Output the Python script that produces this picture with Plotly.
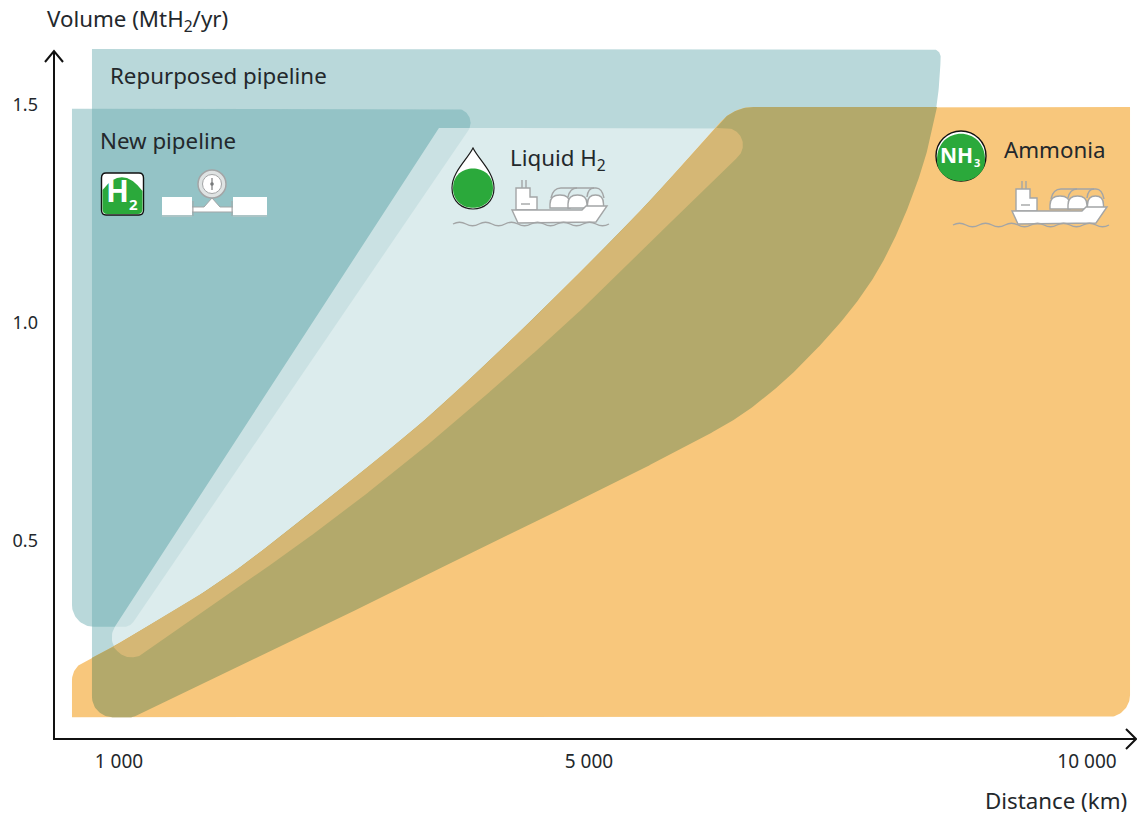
import numpy as np
import plotly.graph_objects as go

# Tick labels and axis titles
x_tick_km = [1000, 5000, 10000]
x_tick_text = ["1 000", "5 000", "10 000"]
y_tick_mt = [0.5, 1.0, 1.5]
y_tick_text = ["0.5", "1.0", "1.5"]

# Region outlines: distance (km) against annual volume (MtH2/yr)
new_pipeline_km = [600, 4098, 1094, 600]
new_pipeline_mt = [1.491, 1.491, 0.303, 0.303]

repurposed_km = [770, 8534, 8524, 8494, 8404, 8273, 8112, 7922, 7691, 7349, 6948,
                 6516, 6044, 5612, 4923, 3562, 3196, 1119, 770]
repurposed_mt = [1.628, 1.628, 1.569, 1.495, 1.397, 1.305, 1.213, 1.126, 1.046, 0.954, 0.862,
                 0.784, 0.725, 0.674, 0.594, 0.415, 0.365, 0.096, 0.096]

ammonia_km = [600, 10432, 10432, 6452, 5633, 4694, 4072, 3562, 2770, 2030, 1630, 940, 600]
ammonia_mt = [0.096, 0.096, 1.495, 1.495, 1.282, 1.053, 0.892, 0.766, 0.594, 0.438, 0.365, 0.255, 0.209]

liquid_km = [3723, 6797, 5914, 4983, 4353, 3562, 2711, 489]
liquid_mt = [1.447, 1.447, 1.252, 1.041, 0.888, 0.704, 0.525, 0.106]

# Corner rounding of each outline, in screen pixels; SMOOTH turns a vertex into a continuous curve
SMOOTH = 5000
new_pipeline_r = [0, 14, 11, 22]
repurposed_r = [0, 8] + [SMOOTH] * 15 + [10, 22]
ammonia_r = [0, 22, 0, 44] + [SMOOTH] * 8 + [20]
liquid_r = [0, 17, SMOOTH, SMOOTH, SMOOTH, SMOOTH, SMOOTH, 20]

# Flat colours of the regions and their overlaps
REPURPOSED = "#b9d8da"
NEW = "rgba(106,172,176,0.47)"
LIQUID = "rgba(255,255,255,0.5)"
AMMONIA = "#f8c77c"
AMMONIA_REPURPOSED = "#b3a96b"
AMMONIA_LIQUID = "#d5b775"
GREEN = "#2ba93b"
INK = "#23282c"
AXIS = "#111111"
ICON_GREY = "#a3a5a6"

W, H = 1137, 815
FONT = "Noto Sans"

# The distance axis is schematic: its ticks are not evenly spaced per km
AXIS_KM = [447, 1000, 5000, 10000, 10502]
AXIS_POS = [0, 65, 535, 1033, 1083]
Y_RANGE = [0.0459, 1.628]
Y_PX = 436.0


def to_pos(km):
    return np.interp(km, AXIS_KM, AXIS_POS)


def rounded_outline(km, mt, radii, closed=True):
    """Closed outline in axis units with circular fillets at the vertices."""
    pts = np.column_stack([to_pos(km), np.asarray(mt) * Y_PX])
    n = len(pts)
    out = []
    for i in range(n):
        v = pts[i]
        r = radii[i]
        if r == 0 or (not closed and i in (0, n - 1)):
            out.append(v)
            continue
        a, b = pts[i - 1] - v, pts[(i + 1) % n] - v
        la, lb = np.hypot(*a), np.hypot(*b)
        ua, ub = a / la, b / lb
        ang = np.arccos(np.clip(ua @ ub, -1, 1))
        d = r / np.tan(ang / 2)
        dmax = 0.5 * min(la, lb)
        if d > dmax:
            d = dmax
            r = d * np.tan(ang / 2)
        bis = (ua + ub) / np.hypot(*(ua + ub))
        c = v + bis * r / np.sin(ang / 2)
        t1, t2 = v + ua * d - c, v + ub * d - c
        a0, a1 = np.arctan2(t1[1], t1[0]), np.arctan2(t2[1], t2[0])
        da = (a1 - a0 + np.pi) % (2 * np.pi) - np.pi
        for t in np.linspace(0, 1, 28):
            out.append(c + r * np.array([np.cos(a0 + da * t), np.sin(a0 + da * t)]))
    out = np.array(out)
    return out[:, 0], out[:, 1] / Y_PX


def resample(x, y, step=1.0):
    """Even steps along a closed outline."""
    px = np.append(x, x[0])
    py = np.append(y, y[0]) * Y_PX
    s = np.concatenate([[0], np.cumsum(np.hypot(np.diff(px), np.diff(py)))])
    t = np.arange(0, s[-1], step)
    return np.interp(t, s, px), np.interp(t, s, py) / Y_PX


def region(x, y, color, name):
    return go.Scatter(x=x, y=y, mode="lines", fill="toself", fillcolor=color,
                      line=dict(width=0), hoverinfo="skip", name=name, showlegend=False)


new_x, new_y = rounded_outline(new_pipeline_km, new_pipeline_mt, new_pipeline_r)
rep_x, rep_y = rounded_outline(repurposed_km, repurposed_mt, repurposed_r)
amm_x, amm_y = rounded_outline(ammonia_km, ammonia_mt, ammonia_r)
liq_x, liq_y = rounded_outline(liquid_km, liquid_mt, liquid_r)

# Ammonia and repurposed pipeline overlap: ammonia's upper edge, then the pipeline's lower edge
overlap_km = [770] + ammonia_km[11:2:-1] + repurposed_km[3:]
overlap_mt = [0.232] + ammonia_mt[11:2:-1] + repurposed_mt[3:]
overlap_r = [0] + ammonia_r[11:2:-1] + [0] + repurposed_r[4:]
ovl_x, ovl_y = rounded_outline(overlap_km, overlap_mt, overlap_r)

# Ammonia and liquid hydrogen overlap: the liquid outline held below ammonia's upper edge
edge_x, edge_y = rounded_outline(ammonia_km[2:12], ammonia_mt[2:12], [0] + ammonia_r[3:11] + [0], closed=False)
order = np.argsort(edge_x)
dense_x, dense_y = resample(liq_x, liq_y)
tan_y = np.minimum(dense_y, np.interp(dense_x, edge_x[order], edge_y[order]))

fig = go.Figure()
fig.add_trace(region(rep_x, rep_y, REPURPOSED, "Repurposed pipeline"))
fig.add_trace(region(new_x, new_y, NEW, "New pipeline"))
fig.add_trace(region(liq_x, liq_y, LIQUID, "Liquid H2"))
fig.add_trace(region(amm_x, amm_y, AMMONIA, "Ammonia"))
fig.add_trace(region(ovl_x, ovl_y, AMMONIA_REPURPOSED, "Ammonia and repurposed pipeline"))
fig.add_trace(region(dense_x, tan_y, AMMONIA_LIQUID, "Ammonia and liquid H2"))


# Pictograms are laid out in page pixels and converted to paper coordinates
def pt(x, y):
    return f"{x / W:.5f} {1 - y / H:.5f}"


def path(cmds, fill="rgba(0,0,0,0)", color="rgba(0,0,0,0)", width=0):
    """cmds is a list of (letter, x1, y1, x2, y2, ...); Z takes no points."""
    parts = []
    for c in cmds:
        if len(c) == 1:
            parts.append(c[0])
        else:
            parts.append(c[0] + " " + " ".join(pt(c[i], c[i + 1]) for i in range(1, len(c), 2)))
    return dict(type="path", xref="paper", yref="paper", path=" ".join(parts),
                fillcolor=fill, line=dict(color=color, width=width), layer="above")


def circle(cx, cy, r, fill="rgba(0,0,0,0)", color="rgba(0,0,0,0)", width=0):
    return dict(type="circle", xref="paper", yref="paper",
                x0=(cx - r) / W, x1=(cx + r) / W, y0=1 - (cy + r) / H, y1=1 - (cy - r) / H,
                fillcolor=fill, line=dict(color=color, width=width), layer="above")


def rect(x0, y0, x1, y1, fill, color="rgba(0,0,0,0)", width=0):
    return dict(type="rect", xref="paper", yref="paper",
                x0=x0 / W, x1=x1 / W, y0=1 - y1 / H, y1=1 - y0 / H,
                fillcolor=fill, line=dict(color=color, width=width), layer="above")


def ship(dx, dy):
    X = lambda v: v + dx
    Y = lambda v: v + dy
    g = dict(color=ICON_GREY, width=1.4)
    items = []
    # funnels
    for fx in (522, 526):
        items.append(path([("M", X(fx), Y(180)), ("L", X(fx), Y(188))], **g))
    # pipework above the tanks
    items.append(path([("M", X(551), Y(198)), ("Q", X(553), Y(188), X(561), Y(188)),
                       ("L", X(596), Y(188)), ("Q", X(602), Y(188), X(604), Y(198))], **g))
    items.append(path([("M", X(568), Y(197)), ("Q", X(570), Y(188), X(577), Y(188))], **g))
    items.append(path([("M", X(587), Y(197)), ("Q", X(588), Y(188), X(594), Y(188))], **g))
    # tank domes
    for tx, tr in ((560, 10), (577.5, 9.5), (595.5, 8)):
        items.append(path([("M", X(tx - tr), Y(208)), ("L", X(tx - tr), Y(204)),
                           ("Q", X(tx - tr), Y(195), X(tx), Y(195)),
                           ("Q", X(tx + tr), Y(195), X(tx + tr), Y(204)),
                           ("L", X(tx + tr), Y(208)), ("Z",)],
                          fill="white", **g))
    # superstructure
    items.append(path([("M", X(516), Y(210)), ("L", X(516), Y(188)), ("L", X(530), Y(188)),
                       ("L", X(530), Y(197)), ("L", X(537), Y(197)), ("L", X(537), Y(210)), ("Z",)],
                      fill="white", **g))
    items.append(path([("M", X(521), Y(204)), ("L", X(530), Y(204))], **g))
    # hull
    items.append(path([("M", X(512), Y(210)), ("L", X(582), Y(210)), ("L", X(586), Y(206)),
                       ("L", X(607), Y(206)), ("L", X(596), Y(222)), ("L", X(518), Y(223)), ("Z",)],
                      fill="white", **g))
    # water line
    cmds = [("M", X(453), Y(224))]
    wx = 453
    while wx < 605:
        cmds.append(("Q", X(wx + 6.5), Y(220.5), X(wx + 13), Y(224)))
        cmds.append(("Q", X(wx + 19.5), Y(227.5), X(wx + 26), Y(224)))
        wx += 26
    items.append(path(cmds, **g))
    return items


shapes = []

# H2 badge
shapes.append(path([("M", 106, 173), ("L", 139, 173), ("Q", 143.5, 173, 143.5, 178), ("L", 143.5, 210),
                    ("Q", 143.5, 215, 139, 215), ("L", 106, 215), ("Q", 101.5, 215, 101.5, 210),
                    ("L", 101.5, 178), ("Q", 101.5, 173, 106, 173), ("Z",)],
                   fill="white", color=AXIS, width=1.4))
shapes.append(path([("M", 102.5, 190), ("Q", 122, 164, 142.5, 191), ("L", 142.5, 209),
                    ("Q", 142.5, 214, 138, 214), ("L", 107, 214), ("Q", 102.5, 214, 102.5, 209), ("Z",)],
                   fill=GREEN))

# Pipeline with pressure gauge
shapes.append(path([("M", 192, 207), ("L", 204, 207), ("L", 212, 198), ("L", 220, 207), ("L", 233, 207),
                    ("L", 233, 212), ("L", 192, 212), ("Z",)], fill="white", color=ICON_GREY, width=1))
shapes.append(rect(162, 197, 192, 215, "white"))
shapes.append(rect(233, 197, 267, 215, "white"))
shapes.append(path([("M", 162, 216), ("L", 192, 216)], color="#c4c6c6", width=1))
shapes.append(path([("M", 233, 216), ("L", 267, 216)], color="#c4c6c6", width=1))
shapes.append(path([("M", 193, 201), ("L", 193, 216)], color=ICON_GREY, width=1))
shapes.append(path([("M", 232, 201), ("L", 232, 216)], color=ICON_GREY, width=1))
shapes.append(circle(212, 184, 14, fill="#dfe3e3", color=ICON_GREY, width=1.5))
shapes.append(circle(212, 184, 9.5, fill="white", color=ICON_GREY, width=1))
shapes.append(path([("M", 212, 178), ("L", 212, 190)], color="#77797a", width=1.2))
shapes.append(circle(212, 184, 1.8, fill="#77797a"))

# Liquid hydrogen droplet
shapes.append(path([("M", 473, 148), ("C", 467, 160, 452, 172, 452, 188),
                    ("C", 452, 216, 494, 216, 494, 188), ("C", 494, 172, 479, 160, 473, 148), ("Z",)],
                   fill="white", color="#1a1a1a", width=1.2))
shapes.append(path([("M", 453, 188), ("C", 453, 162, 493, 162, 493, 188),
                    ("C", 493, 214.5, 453, 214.5, 453, 188), ("Z",)], fill=GREEN))

# Ammonia badge
shapes.append(circle(961, 156, 25, fill="white", color=AXIS, width=1.4))
shapes.append(path([("M", 937, 160), ("C", 937, 125, 985, 125, 985, 160),
                    ("C", 985, 188, 937, 188, 937, 160), ("Z",)], fill=GREEN))

shapes += ship(0, 0)
shapes += ship(500, 1)

# Axes with their arrowheads
shapes.append(path([("M", 54, 51), ("L", 54, 739)], color=AXIS, width=2))
shapes.append(path([("M", 53, 739), ("L", 1136, 739)], color=AXIS, width=2))
shapes.append(path([("M", 45, 62), ("L", 54, 51), ("L", 63, 62)], color=AXIS, width=2))
shapes.append(path([("M", 1126, 729), ("L", 1136, 739), ("L", 1126, 749)], color=AXIS, width=2))


def label(x, y, text, size=22.3, anchor="left", color=INK, weight="normal"):
    return dict(x=x / W, y=1 - y / H, xref="paper", yref="paper", text=text, showarrow=False,
                xanchor=anchor, yanchor="middle", align=anchor,
                font=dict(family=FONT, size=size, color=color, weight=weight))


annotations = [
    label(108, 75, "Repurposed pipeline"),
    label(98, 140, "New pipeline"),
    label(508, 159, "Liquid H<sub>2</sub>"),
    label(1002, 149, "Ammonia"),
    label(45, 20, "Volume (MtH<sub>2</sub>/yr)"),
    label(1129, 800, "Distance (km)", anchor="right"),
    label(117.5, 191, "H", size=30, anchor="center", color="white", weight="bold"),
    label(133, 204, "2", size=15, anchor="center", color="white", weight="bold"),
    label(956, 155, "NH", size=21, anchor="center", color="white", weight="bold"),
    label(977, 163, "3", size=11, anchor="center", color="white", weight="bold"),
]

fig.update_layout(
    width=W, height=H, margin=dict(l=0, r=0, t=0, b=0),
    paper_bgcolor="white", plot_bgcolor="white", showlegend=False,
    shapes=shapes, annotations=annotations,
    font=dict(family=FONT, color=INK),
    xaxis=dict(domain=[54 / W, 1], range=[AXIS_POS[0], AXIS_POS[-1]],
               tickmode="array", tickvals=to_pos(x_tick_km).tolist(), ticktext=x_tick_text,
               tickfont=dict(size=19, color=INK), ticks="", ticklabelstandoff=9,
               showgrid=False, zeroline=False, showline=False, fixedrange=True),
    yaxis=dict(domain=[(H - 739) / H, (H - 49) / H], range=Y_RANGE,
               tickmode="array", tickvals=y_tick_mt, ticktext=y_tick_text,
               tickfont=dict(size=18, color=INK), ticks="", ticklabelstandoff=15,
               showgrid=False, zeroline=False, showline=False, fixedrange=True),
)

fig.write_html("out.html", config=dict(displayModeBar=False))
